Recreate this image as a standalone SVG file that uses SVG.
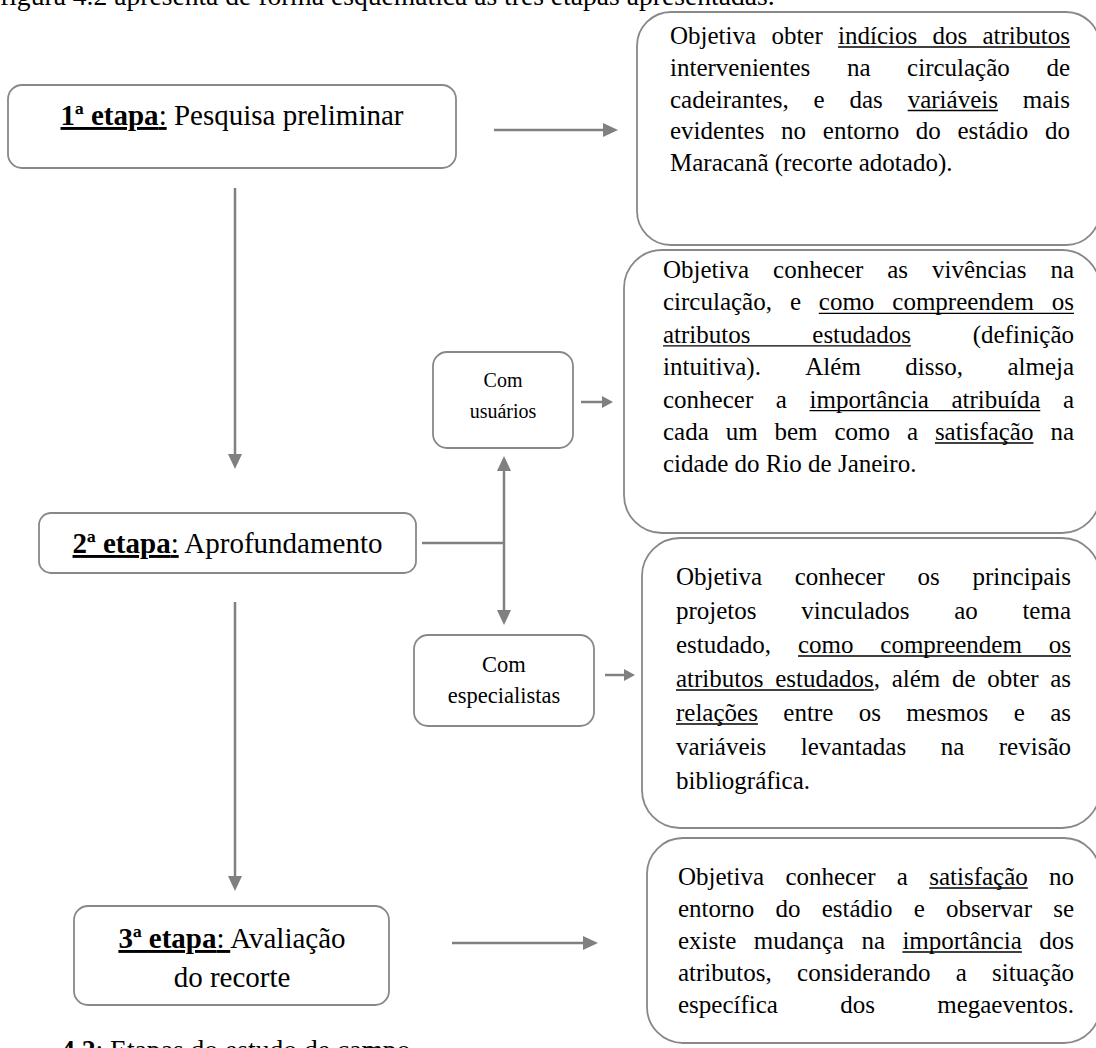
<svg xmlns="http://www.w3.org/2000/svg" width="1096" height="1048" viewBox="0 0 1096 1048">
<style>
text{font-family:"Liberation Serif","Times New Roman",serif;fill:#000}
.b{font-size:25px}
.lab{font-size:29px;text-anchor:middle}
.sm{font-size:20px;text-anchor:middle}
.sm2{font-size:22.5px;text-anchor:middle}
.doc{font-size:27.6px}
.box{fill:#fff;stroke:#888;stroke-width:1.8}
.conn{stroke:#808080;stroke-width:2.5;fill:none}
.ul{stroke:#000;stroke-width:1.3}
</style>
<defs>
<marker id="ah" markerUnits="userSpaceOnUse" viewBox="0 0 15 14" refX="0" refY="7" markerWidth="15" markerHeight="14" orient="auto-start-reverse"><path d="M0,0 L15,7 L0,14 z" fill="#808080"/></marker>
<marker id="ahs" markerUnits="userSpaceOnUse" viewBox="0 0 11 12" refX="0" refY="6" markerWidth="11" markerHeight="12" orient="auto"><path d="M0,0 L11,6 L0,12 z" fill="#808080"/></marker>
</defs>

<text class="doc" x="0" y="5">figura 4.2 apresenta de forma esquemática as três etapas apresentadas.</text>
<text class="doc" x="61" y="1059"><tspan font-weight="bold">4.2</tspan>: Etapas do estudo de campo</text>

<g id="connectors">
<line class="conn" x1="494" y1="130" x2="603" y2="130" marker-end="url(#ah)"/>
<line class="conn" x1="235" y1="188" x2="235" y2="454" marker-end="url(#ah)"/>
<line class="conn" x1="235" y1="602" x2="235" y2="876" marker-end="url(#ah)"/>
<line class="conn" x1="452" y1="943" x2="583" y2="943" marker-end="url(#ah)"/>
<line class="conn" x1="422" y1="543" x2="504" y2="543"/>
<line class="conn" x1="504" y1="471" x2="504" y2="610" marker-start="url(#ah)" marker-end="url(#ah)"/>
<line class="conn" x1="581" y1="402" x2="602" y2="402" marker-end="url(#ahs)"/>
<line class="conn" x1="605" y1="675" x2="624" y2="675" marker-end="url(#ahs)"/>
</g>

<g id="etapa1">
<rect class="box" x="8" y="85" width="448" height="83" rx="14"/>
<text class="lab" x="232" y="125"><tspan font-weight="bold" text-decoration="underline">1ª etapa</tspan><tspan text-decoration="underline">:</tspan> Pesquisa preliminar</text>
</g>

<g id="etapa2">
<rect class="box" x="39" y="513" width="377" height="60" rx="12"/>
<text class="lab" x="227.5" y="553"><tspan font-weight="bold" text-decoration="underline">2ª etapa</tspan><tspan text-decoration="underline">:</tspan> Aprofundamento</text>
</g>

<g id="etapa3">
<rect class="box" x="74" y="906" width="315" height="99" rx="14"/>
<text class="lab" x="232" y="948"><tspan font-weight="bold" text-decoration="underline">3ª etapa</tspan><tspan text-decoration="underline">: </tspan>Avaliação</text>
<text class="lab" x="232" y="987">do recorte</text>
</g>

<g id="com-usuarios">
<rect class="box" x="433" y="352" width="140" height="96" rx="14"/>
<text class="sm" x="503" y="387">Com</text>
<text class="sm" x="503" y="418">usuários</text>
</g>

<g id="com-especialistas">
<rect class="box" x="414" y="635" width="180" height="91" rx="14"/>
<text class="sm2" x="504" y="672">Com</text>
<text class="sm2" x="504" y="703">especialistas</text>
</g>

<g id="obj1">
<rect class="box" x="637" y="12" width="463" height="233" rx="34"/>
<text class="b" y="44"><tspan x="670">Objetiva </tspan><tspan x="771.4">obter </tspan><tspan x="838.0">indícios </tspan><tspan x="932.5">dos </tspan><tspan x="982.5">atributos</tspan></text>
<line class="ul" x1="838" y1="47" x2="1070" y2="47"/>
<text class="b" y="75.75"><tspan x="670">intervenientes </tspan><tspan x="846.9">na </tspan><tspan x="907.1">circulação </tspan><tspan x="1046.4">de</tspan></text>
<text class="b" y="107.5"><tspan x="670">cadeirantes, </tspan><tspan x="813.6">e </tspan><tspan x="849.5">das </tspan><tspan x="907.7">variáveis </tspan><tspan x="1022.8">mais</tspan></text>
<line class="ul" x1="907.7" y1="110.5" x2="997.9" y2="110.5"/>
<text class="b" y="139.25"><tspan x="670">evidentes </tspan><tspan x="781.1">no </tspan><tspan x="822.8">entorno </tspan><tspan x="915.8">do </tspan><tspan x="957.5">estádio </tspan><tspan x="1045">do</tspan></text>
<text class="b" x="670" y="171">Maracanã (recorte adotado).</text>
</g>

<g id="obj2">
<rect class="box" x="624" y="250" width="476" height="283" rx="38"/>
<text class="b" y="278"><tspan x="663">Objetiva </tspan><tspan x="773.1">conhecer </tspan><tspan x="887.2">as </tspan><tspan x="932.0">vivências </tspan><tspan x="1050.4">na</tspan></text>
<text class="b" y="310.4"><tspan x="663">circulação, </tspan><tspan x="789.9">e </tspan><tspan x="818.8">como </tspan><tspan x="892.3">compreendem </tspan><tspan x="1051.8">os</tspan></text>
<line class="ul" x1="818.8" y1="313.4" x2="1074" y2="313.4"/>
<text class="b" y="342.8"><tspan x="663">atributos </tspan><tspan x="812.3">estudados </tspan><tspan x="972.7">(definição</tspan></text>
<line class="ul" x1="663" y1="345.8" x2="910.9" y2="345.8"/>
<text class="b" y="375.2"><tspan x="663">intuitiva). </tspan><tspan x="805.3">Além </tspan><tspan x="905.3">disso, </tspan><tspan x="1007.4">almeja</tspan></text>
<text class="b" y="407.6"><tspan x="663">conhecer </tspan><tspan x="775.8">a </tspan><tspan x="809.5">importância </tspan><tspan x="951.5">atribuída </tspan><tspan x="1062.9">a</tspan></text>
<line class="ul" x1="809.5" y1="410.6" x2="1040.3" y2="410.6"/>
<text class="b" y="440"><tspan x="663">cada </tspan><tspan x="725.7">um </tspan><tspan x="774.5">bem </tspan><tspan x="834.5">como </tspan><tspan x="906.9">a </tspan><tspan x="934.9">satisfação </tspan><tspan x="1050.4">na</tspan></text>
<line class="ul" x1="934.9" y1="443" x2="1033.5" y2="443"/>
<text class="b" x="663" y="472.4">cidade do Rio de Janeiro.</text>
</g>

<g id="obj3">
<rect class="box" x="642" y="538" width="458" height="290" rx="38"/>
<text class="b" y="585"><tspan x="676">Objetiva </tspan><tspan x="794.7">conhecer </tspan><tspan x="917.6">os </tspan><tspan x="972.4">principais</tspan></text>
<text class="b" y="619"><tspan x="676">projetos </tspan><tspan x="801.2">vinculados </tspan><tspan x="954.2">ao </tspan><tspan x="1022.4">tema</tspan></text>
<text class="b" y="653"><tspan x="676">estudado, </tspan><tspan x="798.0">como </tspan><tspan x="880.3">compreendem </tspan><tspan x="1048.8">os</tspan></text>
<line class="ul" x1="798" y1="656" x2="1071" y2="656"/>
<text class="b" y="687"><tspan x="676">atributos </tspan><tspan x="775.2">estudados, </tspan><tspan x="891.7">além </tspan><tspan x="951.9">de </tspan><tspan x="987.2">obter </tspan><tspan x="1050.2">as</tspan></text>
<line class="ul" x1="676" y1="690" x2="873.8" y2="690"/>
<text class="b" y="721"><tspan x="676">relações </tspan><tspan x="783.3">entre </tspan><tspan x="858.7">os </tspan><tspan x="906.3">mesmos </tspan><tspan x="1013.7">e </tspan><tspan x="1050.2">as</tspan></text>
<line class="ul" x1="676" y1="724" x2="757.9" y2="724"/>
<text class="b" y="755"><tspan x="676">variáveis </tspan><tspan x="800.7">levantadas </tspan><tspan x="940.7">na </tspan><tspan x="998.8">revisão</tspan></text>
<text class="b" x="676" y="789">bibliográfica.</text>
</g>

<g id="obj4">
<rect class="box" x="647" y="838" width="453" height="205" rx="36"/>
<text class="b" y="885"><tspan x="678">Objetiva </tspan><tspan x="785.4">conhecer </tspan><tspan x="896.8">a </tspan><tspan x="929.2">satisfação </tspan><tspan x="1049">no</tspan></text>
<line class="ul" x1="929.2" y1="888" x2="1027.8" y2="888"/>
<text class="b" y="917"><tspan x="678">entorno </tspan><tspan x="775.5">do </tspan><tspan x="821.7">estádio </tspan><tspan x="913.7">e </tspan><tspan x="945.9">observar </tspan><tspan x="1053.2">se</tspan></text>
<text class="b" y="949"><tspan x="678">existe </tspan><tspan x="753.7">mudança </tspan><tspan x="861.4">na </tspan><tspan x="902.4">importância </tspan><tspan x="1039.3">dos</tspan></text>
<line class="ul" x1="902.4" y1="952" x2="1021.9" y2="952"/>
<text class="b" y="981"><tspan x="678">atributos, </tspan><tspan x="797.1">considerando </tspan><tspan x="955.7">a </tspan><tspan x="992.1">situação</tspan></text>
<text class="b" y="1013"><tspan x="678">específica </tspan><tspan x="840.2">dos </tspan><tspan x="937.2">megaeventos.</tspan></text>
</g>
</svg>
